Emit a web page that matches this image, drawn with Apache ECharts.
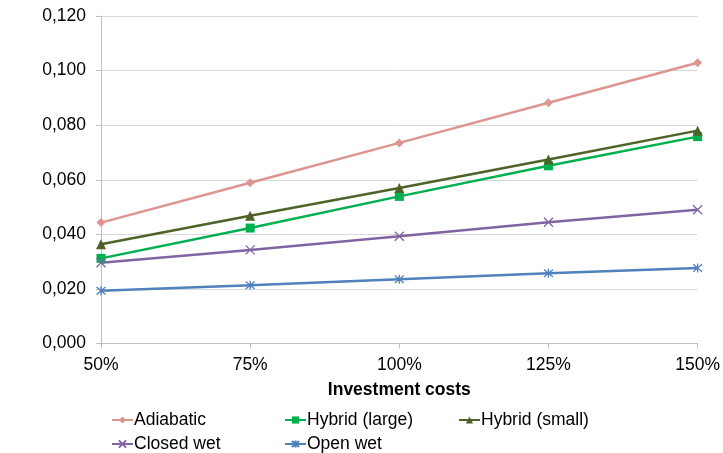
<!DOCTYPE html>
<html><head><meta charset="utf-8">
<script src="https://cdn.jsdelivr.net/npm/echarts@6/dist/echarts.min.js"></script>
<style>html,body{margin:0;padding:0;background:#fff}#c{width:723px;height:453px}</style>
</head><body><div id="c"></div>
<script>
const categories = ['50%', '75%', '100%', '125%', '150%'];
const adiabatic = [0.0443, 0.0589, 0.0735, 0.0882, 0.1029];
const hybridLarge = [0.0312, 0.0423, 0.0539, 0.0651, 0.0758];
const hybridSmall = [0.0364, 0.0468, 0.0570, 0.0674, 0.0780];
const closedWet = [0.0296, 0.0343, 0.0393, 0.0444, 0.0490];
const openWet = [0.0193, 0.0213, 0.0235, 0.0257, 0.0277];
const yTickLabels = ['0,000', '0,020', '0,040', '0,060', '0,080', '0,100', '0,120'];
const seriesNames = ['Adiabatic', 'Hybrid (large)', 'Hybrid (small)', 'Closed wet', 'Open wet'];

const FONT = 'Liberation Sans, Arial, sans-serif';
const FS = 17.5;
const xPath = 'path://M0,0L10,10M10,0L0,10';
const starPath = 'path://M0,0L10,10M10,0L0,10M5,-1L5,11';

const chart = echarts.init(document.getElementById('c'));
function mkSeries(name, data, color, symbol, size, stroke) {
  return {
    name, type: 'line', data, symbol, symbolSize: size,
    lineStyle: { color, width: 2.5 },
    itemStyle: stroke ? { color: 'transparent', borderColor: color, borderWidth: 1.3 } : { color },
    color,
    emphasis: { disabled: true }
  };
}
function legendAt(name, left, top) {
  return {
    data: [name], left, top, itemWidth: 21, itemHeight: 9, itemGap: 0, padding: 0,
    textStyle: { fontFamily: FONT, fontSize: FS, color: '#000', padding: [0, 0, 0, -4] }
  };
}
chart.setOption({
  animation: false,
  grid: { left: 101, right: 24, top: 16, bottom: 109.5 },
  legend: [
    legendAt(seriesNames[0], 111, 411),
    legendAt(seriesNames[1], 284, 411),
    legendAt(seriesNames[2], 458, 411),
    legendAt(seriesNames[3], 111, 435),
    legendAt(seriesNames[4], 284, 435)
  ],
  xAxis: {
    type: 'category', data: categories, boundaryGap: false,
    name: 'Investment costs', nameLocation: 'middle', nameGap: 38,
    nameTextStyle: { fontFamily: FONT, fontSize: FS, fontWeight: 'bold', color: '#000' },
    axisLine: { lineStyle: { color: '#bfbfbf', width: 1 } },
    axisTick: { show: true, length: 5, lineStyle: { color: '#bfbfbf' } },
    axisLabel: { fontFamily: FONT, fontSize: FS, color: '#000', margin: 13 },
    splitLine: { show: false }
  },
  yAxis: {
    type: 'value', min: 0, max: 0.12, interval: 0.02,
    axisLine: { show: true, lineStyle: { color: '#bfbfbf', width: 1 } },
    axisTick: { show: true, length: 5, lineStyle: { color: '#bfbfbf' } },
    axisLabel: { fontFamily: FONT, fontSize: FS, color: '#000', margin: 15,
      formatter: (v) => yTickLabels[Math.round(v / 0.02)] },
    splitLine: { lineStyle: { color: '#d9d9d9', width: 1 } }
  },
  series: [
    mkSeries(seriesNames[0], adiabatic, '#dd9591', 'diamond', 9),
    mkSeries(seriesNames[1], hybridLarge, '#00b050', 'rect', 9),
    mkSeries(seriesNames[2], hybridSmall, '#4f6228', 'triangle', 10),
    mkSeries(seriesNames[3], closedWet, '#8064a2', xPath, 9, true),
    mkSeries(seriesNames[4], openWet, '#4f81bd', starPath, 9, true)
  ]
});
</script></body></html>
